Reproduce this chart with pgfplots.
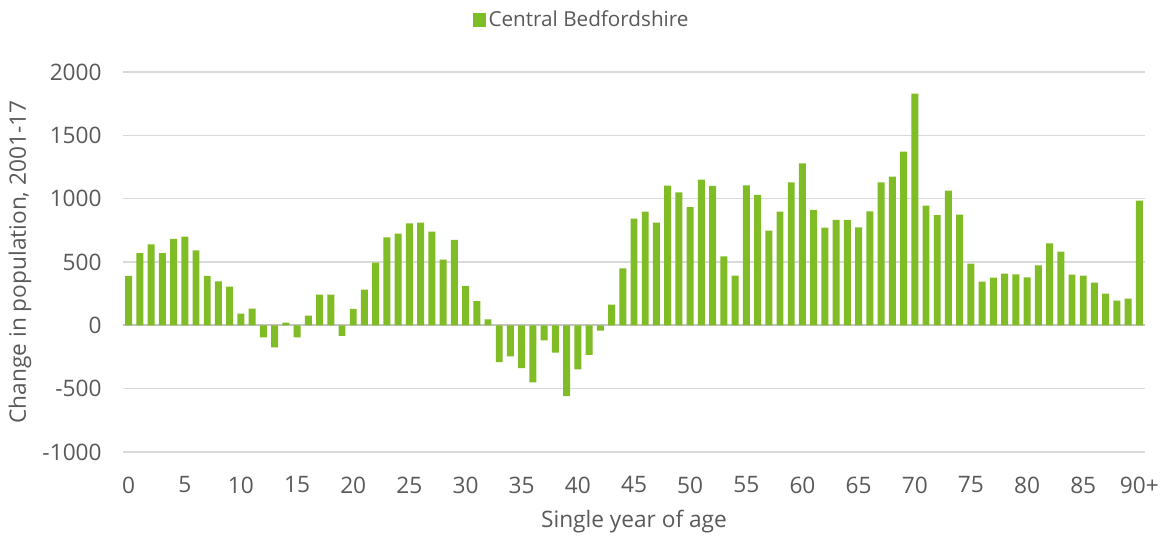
\documentclass[border=0pt]{standalone}
\usepackage{pgfplots}
\pgfplotsset{compat=1.18}
\usepackage{fontspec}
\setmainfont{Open Sans}

\definecolor{bargreen}{RGB}{128,188,38}
\definecolor{txtgray}{RGB}{89,89,89}
\definecolor{gridgray}{RGB}{217,217,217}

\begin{document}
\begin{tikzpicture}
% 1 px of the reference = 0.75pt
\useasboundingbox (-92.25pt,-64.5pt) rectangle (779.25pt,339pt);
\begin{axis}[
    scale only axis,
    width=766.5pt,
    height=285pt,
    xmin=-0.5, xmax=90.5,
    ymin=-1000, ymax=2000,
    ytick={-1000,-500,0,500,1000,1500,2000},
    xtick={0,5,...,90},
    xticklabels={0,5,10,15,20,25,30,35,40,45,50,55,60,65,70,75,80,85,90+},
    major tick length=0pt,
    axis line style={draw=none},
    ymajorgrids,
    grid style={gridgray, line width=1.1pt},
    extra y ticks={0},
    extra y tick labels={},
    extra y tick style={grid style={gridgray!90!black, line width=1.3pt}},
    /pgf/number format/assume math mode=true,
    /pgf/number format/set thousands separator={},
    tick label style={font=\fontsize{17pt}{19pt}\selectfont, text=txtgray},
    yticklabel style={xshift=-12.5pt},
    xticklabel style={yshift=-15pt},
    xlabel={Single year of age},
    ylabel={Change in population, 2001-17},
    label style={font=\fontsize{17pt}{19pt}\selectfont, text=txtgray},
    xlabel style={at={(axis description cs:0.5,-0.184)}, anchor=center},
    ylabel style={at={(axis description cs:-0.1008,0.5)}, anchor=center},
    legend style={
        at={(axis description cs:0.449,1.137)},
        anchor=center,
        draw=none,
        font=\fontsize{15.5pt}{17pt}\selectfont,
        text=txtgray,
        legend cell align=left
    },
    ybar,
    bar width=0.62,
]
\addplot[fill=bargreen, draw=none,
    legend image code/.code={\fill[bargreen] (0pt,-5pt) rectangle (10pt,5pt);}]
coordinates {
(0,390) (1,571) (2,640) (3,571) (4,682) (5,700) (6,592) (7,390) (8,347) (9,305)
(10,92) (11,132) (12,-95) (13,-174) (14,21) (15,-95) (16,76) (17,242) (18,242) (19,-84)
(20,129) (21,282) (22,495) (23,695) (24,724) (25,805) (26,811) (27,740) (28,518) (29,674)
(30,311) (31,192) (32,47) (33,-290) (34,-245) (35,-337) (36,-450) (37,-118) (38,-216) (39,-558)
(40,-347) (41,-234) (42,-42) (43,163) (44,450) (45,842) (46,897) (47,811) (48,1103) (49,1050)
(50,934) (51,1150) (52,1100) (53,545) (54,392) (55,1105) (56,1029) (57,747) (58,897) (59,1129)
(60,1279) (61,911) (62,771) (63,832) (64,832) (65,774) (66,900) (67,1129) (68,1174) (69,1371)
(70,1829) (71,945) (72,871) (73,1063) (74,874) (75,487) (76,345) (77,376) (78,408) (79,403)
(80,379) (81,474) (82,647) (83,582) (84,400) (85,392) (86,337) (87,250) (88,195) (89,211)
(90,984)
};
\addlegendentry{Central Bedfordshire}
\end{axis}
\end{tikzpicture}
\end{document}
